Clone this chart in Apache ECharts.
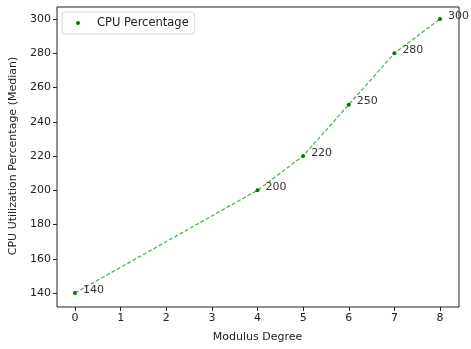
<!DOCTYPE html>
<html>
<head>
<meta charset="utf-8">
<script src="https://cdn.jsdelivr.net/npm/echarts@6/dist/echarts.min.js"></script>
<style>
  html, body { margin: 0; padding: 0; background: #fff; }
  #chart { width: 471px; height: 349px; }
</style>
</head>
<body>
<div id="chart"></div>
<script>
    // values
    const degrees = [0, 4, 5, 6, 7, 8];
    const cpuMedian = [140, 200, 220, 250, 280, 300];
    const seriesName = 'CPU Percentage';

    const font = 'DejaVu Sans';
    const points = degrees.map((d, i) => [d, cpuMedian[i]]);

    const txt = { fontFamily: font, fontSize: 11, color: '#222' };

    let myChart = echarts.init(document.getElementById('chart'));
    let option = {
        animation: false,
        textStyle: { fontFamily: font },
        grid: [
            // data area (0..8, 140..300)
            { left: 75, right: 31, top: 19, bottom: 56 },
            // outer frame with matplotlib margins
            { left: 57, right: 12, top: 7, bottom: 42, show: true, borderColor: '#222', borderWidth: 1 }
        ],
        legend: {
            left: 62, top: 12,
            padding: [5, 6, 5, 14],
            backgroundColor: '#fff',
            borderColor: '#d6d6d6', borderWidth: 1, borderRadius: 3,
            itemWidth: 28, itemHeight: 4,
            textStyle: { fontFamily: font, fontSize: 11.5, color: '#222' },
            data: [{ name: seriesName, icon: 'circle' }]
        },
        xAxis: [{
            gridIndex: 0,
            type: 'value',
            min: 0, max: 8, interval: 1,
            offset: 14,
            name: 'Modulus Degree',
            nameLocation: 'middle',
            nameGap: 25,
            nameTextStyle: txt,
            splitLine: { show: false },
            axisLine: { show: false, onZero: false },
            axisTick: { show: true, length: 4, lineStyle: { color: '#222' } },
            axisLabel: Object.assign({ margin: 6 }, txt)
        }, {
            gridIndex: 1, type: 'value', show: false, min: 0, max: 1
        }],
        yAxis: [{
            gridIndex: 0,
            type: 'value',
            min: 140, max: 300, interval: 20,
            offset: 18,
            name: 'CPU Utilization Percentage (Median)',
            nameLocation: 'middle',
            nameGap: 38,
            nameTextStyle: txt,
            splitLine: { show: false },
            axisLine: { show: false, onZero: false },
            axisTick: { show: true, length: 4, lineStyle: { color: '#222' } },
            axisLabel: Object.assign({ margin: 6 }, txt)
        }, {
            gridIndex: 1, type: 'value', show: false, min: 0, max: 1
        }],
        series: [{
            name: seriesName,
            type: 'line',
            xAxisIndex: 0,
            yAxisIndex: 0,
            data: points,
            symbol: 'circle',
            symbolSize: 4,
            itemStyle: { color: '#007a00' },
            lineStyle: { color: '#52b852', width: 1.3, type: [4, 2] },
            label: {
                show: true,
                position: 'right',
                distance: 6,
                offset: [0, -3],
                fontFamily: font, fontSize: 11, color: '#333',
                formatter: p => String(p.value[1])
            }
        }]
    };
    myChart.setOption(option);
</script>
</body>
</html>
